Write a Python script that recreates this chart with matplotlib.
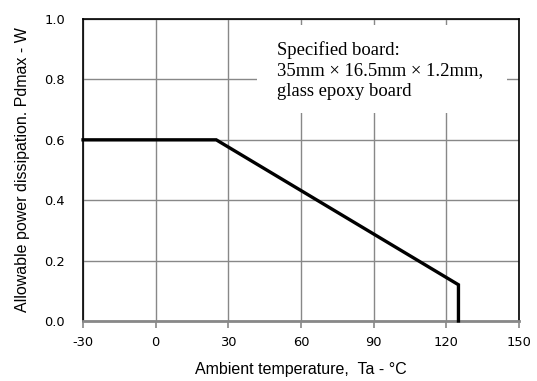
import matplotlib
matplotlib.use("Agg")
import matplotlib.pyplot as plt
from matplotlib.patches import Rectangle

temp = [-30, 25, 125, 125]
pdmax = [0.6, 0.6, 0.12, 0.0]
xticks = [-30, 0, 30, 60, 90, 120, 150]
yticks = [0.0, 0.2, 0.4, 0.6, 0.8, 1.0]

fig = plt.figure(figsize=(5.37, 3.81), dpi=100)
ax = fig.add_axes([0.1546, 0.1575, 0.8119, 0.7925])
ax.set_xlim(-30, 150)
ax.set_ylim(0, 1.0)
ax.set_xticks(xticks)
ax.set_yticks(yticks)
ax.set_xticklabels([str(t) for t in xticks])
ax.set_yticklabels([f"{t:.1f}" for t in yticks])
ax.grid(True, color="#888888", linewidth=1.0, zorder=0)
ax.set_axisbelow(True)
ax.tick_params(axis="x", direction="out", length=5, width=1.2, color="#888888", labelsize=9.4, pad=6)
ax.tick_params(axis="y", length=0, labelsize=9.4, pad=13)
for s in ["left", "top", "right"]:
    ax.spines[s].set_color("black")
    ax.spines[s].set_linewidth(1.2)
ax.spines["bottom"].set_color("#888888")
ax.spines["bottom"].set_linewidth(2.0)

ax.plot(temp, pdmax, color="black", linewidth=2.4, solid_joinstyle="miter", clip_on=False, zorder=3)

ax.add_patch(Rectangle((0.40, 0.69), 0.573, 0.29, transform=ax.transAxes,
                       facecolor="white", edgecolor="none", zorder=2))
ax.text(0.445, 0.928, "Specified board:\n35mm \u00d7 16.5mm \u00d7 1.2mm,\nglass epoxy board",
        transform=ax.transAxes, family="Liberation Serif", fontsize=13.4,
        va="top", ha="left", linespacing=1.3, zorder=4)

ax.set_xlabel("Ambient temperature,  Ta - \u00b0C", family="Liberation Sans", fontsize=11.5, labelpad=9)
ax.set_ylabel("Allowable power dissipation. Pdmax - W", family="Liberation Sans", fontsize=11.5, labelpad=10)

fig.savefig("out.png", dpi=100)
